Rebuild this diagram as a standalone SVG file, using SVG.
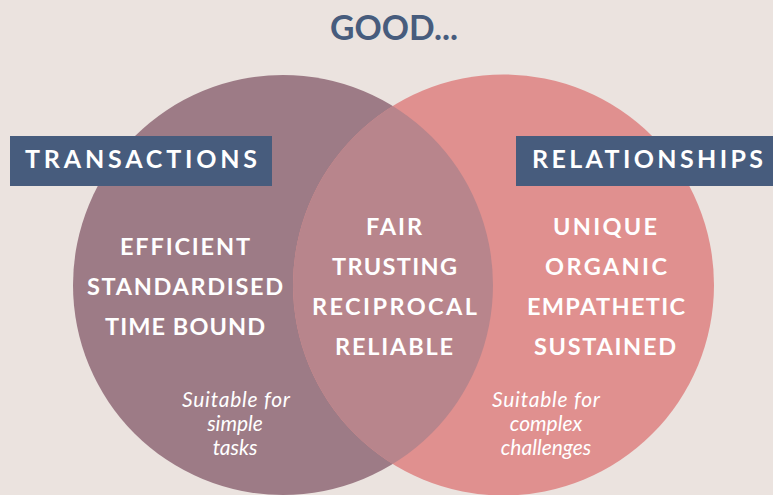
<svg xmlns="http://www.w3.org/2000/svg" width="773" height="495" viewBox="0 0 773 495">
  <style>
    .cap { font-family: Lato, "Open Sans", "Liberation Sans", sans-serif; font-weight: 700; fill: #ffffff; text-anchor: middle; font-size: 23.5px; }
    .hdr { font-family: Lato, "Open Sans", "Liberation Sans", sans-serif; font-weight: 700; fill: #ffffff; font-size: 25px; }
    .note { font-family: Lato, "Open Sans", "Liberation Sans", sans-serif; font-style: italic; fill: #ffffff; text-anchor: middle; font-size: 21px; }
    .box { fill: #475c7d; }
  </style>
  <defs>
    <clipPath id="leftClip">
      <circle cx="283" cy="285" r="210"/>
    </clipPath>
  </defs>
  <rect x="0" y="0" width="773" height="495" fill="#ebe3df"/>

  <g id="title">
    <text x="394" y="40" font-family="Lato, 'Open Sans', 'Liberation Sans', sans-serif" font-weight="700" font-size="35" fill="#475c7d" text-anchor="middle" textLength="128" lengthAdjust="spacingAndGlyphs">GOOD...</text>
  </g>

  <g id="transactions-circle">
    <circle cx="283" cy="285" r="210" fill="#9d7b86"/>
  </g>
  <g id="relationships-circle">
    <circle cx="503.5" cy="285" r="210.5" fill="#e0908f"/>
  </g>
  <g id="overlap">
    <circle cx="503.5" cy="285" r="210.5" fill="#b8858c" clip-path="url(#leftClip)"/>
  </g>

  <g id="transactions-label">
    <rect class="box" x="10" y="136" width="262" height="50"/>
    <text class="hdr" x="25" y="168" textLength="232" lengthAdjust="spacing">TRANSACTIONS</text>
  </g>
  <g id="relationships-label">
    <rect class="box" x="516" y="136" width="257" height="50"/>
    <text class="hdr" x="532" y="168" textLength="231" lengthAdjust="spacing">RELATIONSHIPS</text>
  </g>

  <g id="transactions-traits">
    <text class="cap" x="185" y="255" textLength="130" lengthAdjust="spacing">EFFICIENT</text>
    <text class="cap" x="185" y="295" textLength="196" lengthAdjust="spacing">STANDARDISED</text>
    <text class="cap" x="185" y="335" textLength="160" lengthAdjust="spacing">TIME BOUND</text>
    <text class="note" x="236" y="407" textLength="108" lengthAdjust="spacing">Suitable for</text>
    <text class="note" x="235" y="431">simple</text>
    <text class="note" x="235" y="455">tasks</text>
  </g>

  <g id="shared-traits">
    <text class="cap" x="394" y="235" textLength="56" lengthAdjust="spacing">FAIR</text>
    <text class="cap" x="394.5" y="275" textLength="125" lengthAdjust="spacing">TRUSTING</text>
    <text class="cap" x="394.5" y="315" textLength="165" lengthAdjust="spacing">RECIPROCAL</text>
    <text class="cap" x="394" y="355" textLength="118" lengthAdjust="spacing">RELIABLE</text>
  </g>

  <g id="relationships-traits">
    <text class="cap" x="605" y="235" textLength="104" lengthAdjust="spacing">UNIQUE</text>
    <text class="cap" x="606" y="275" textLength="122" lengthAdjust="spacing">ORGANIC</text>
    <text class="cap" x="606" y="315" textLength="158" lengthAdjust="spacing">EMPATHETIC</text>
    <text class="cap" x="605" y="355" textLength="142" lengthAdjust="spacing">SUSTAINED</text>
    <text class="note" x="546" y="407" textLength="108" lengthAdjust="spacing">Suitable for</text>
    <text class="note" x="546" y="431">complex</text>
    <text class="note" x="546" y="455">challenges</text>
  </g>

  <g id="connectors"></g>
</svg>
